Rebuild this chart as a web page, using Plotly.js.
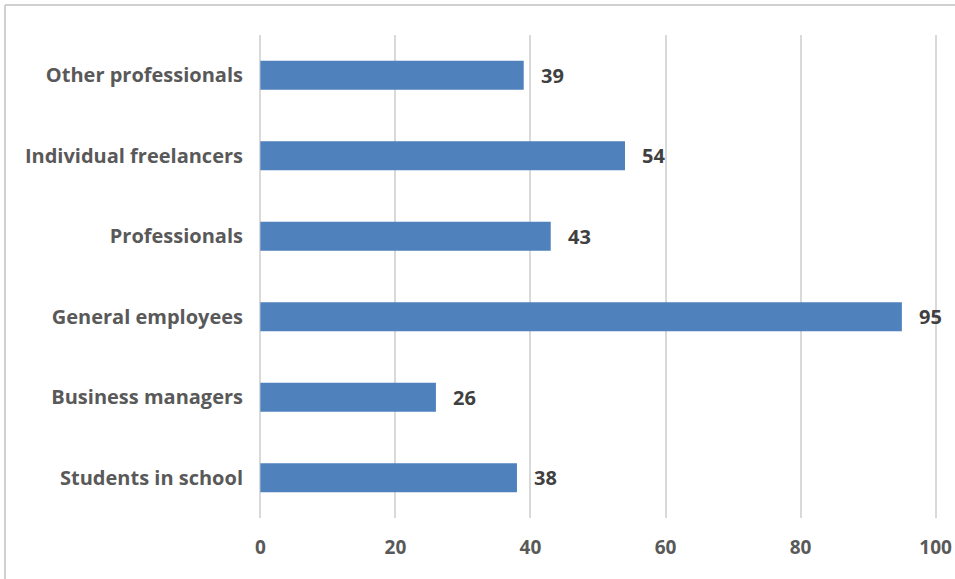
<!DOCTYPE html>
<html><head><meta charset="utf-8">
<script src="https://cdn.plot.ly/plotly-3.0.1.min.js"></script>
<style>body{margin:0;background:#fff}</style>
</head><body><div id="c" style="width:955px;height:579px"></div>
<script>
const categories = ["Students in school","Business managers","General employees","Professionals","Individual freelancers","Other professionals"];
const values = [38, 26, 95, 43, 54, 39];
const xTicks = [0, 20, 40, 60, 80, 100];

const L = 259, R = 18, T = 35, B = 61, W = 955, H = 579;
const pw = W - L - R, ph = H - T - B;
const px = v => (v - L) / pw;
const py = v => (H - B - v) / ph;

const labelFont = {family: 'Open Sans', size: 20, color: '#404040', weight: 'bold'};

Plotly.newPlot('c', [{
  type: 'bar', orientation: 'h',
  y: categories, x: values,
  width: 0.36,
  marker: {color: '#4f81bd', line: {width: 0}},
  hoverinfo: 'none'
}], {
  width: W, height: H,
  margin: {l: L, r: R, t: T, b: B},
  paper_bgcolor: '#fff', plot_bgcolor: '#fff',
  showlegend: false,
  font: {family: 'Open Sans'},
  xaxis: {
    range: [-0.2, 100.2], tickvals: xTicks, ticktext: xTicks.map(String),
    showgrid: true, gridcolor: '#d9d9d9', gridwidth: 2,
    zeroline: false, showline: false, ticks: '',
    ticklabelstandoff: 16,
    tickfont: {family: 'Open Sans', size: 19, color: '#595959', weight: 'bold'}
  },
  yaxis: {
    showgrid: false, zeroline: false, showline: false, ticks: '',
    ticklabelstandoff: 15,
    range: [-0.5, 5.5],
    tickfont: {family: 'Open Sans', size: 20, color: '#595959', weight: 'bold'}
  },
  annotations: values.map((v, i) => ({
    x: v, y: categories[i], xref: 'x', yref: 'y',
    text: String(v), showarrow: false, xanchor: 'left', yanchor: 'middle',
    xshift: 15, font: labelFont
  })),
  shapes: [
    {type: 'line', xref: 'paper', yref: 'paper', x0: px(5), x1: px(955), y0: py(5), y1: py(5), line: {color: '#d0d0d0', width: 2}},
    {type: 'line', xref: 'paper', yref: 'paper', x0: px(5), x1: px(5), y0: py(5), y1: py(579), line: {color: '#d0d0d0', width: 2}}
  ]
}, {displayModeBar: false, staticPlot: true});
</script></body></html>
